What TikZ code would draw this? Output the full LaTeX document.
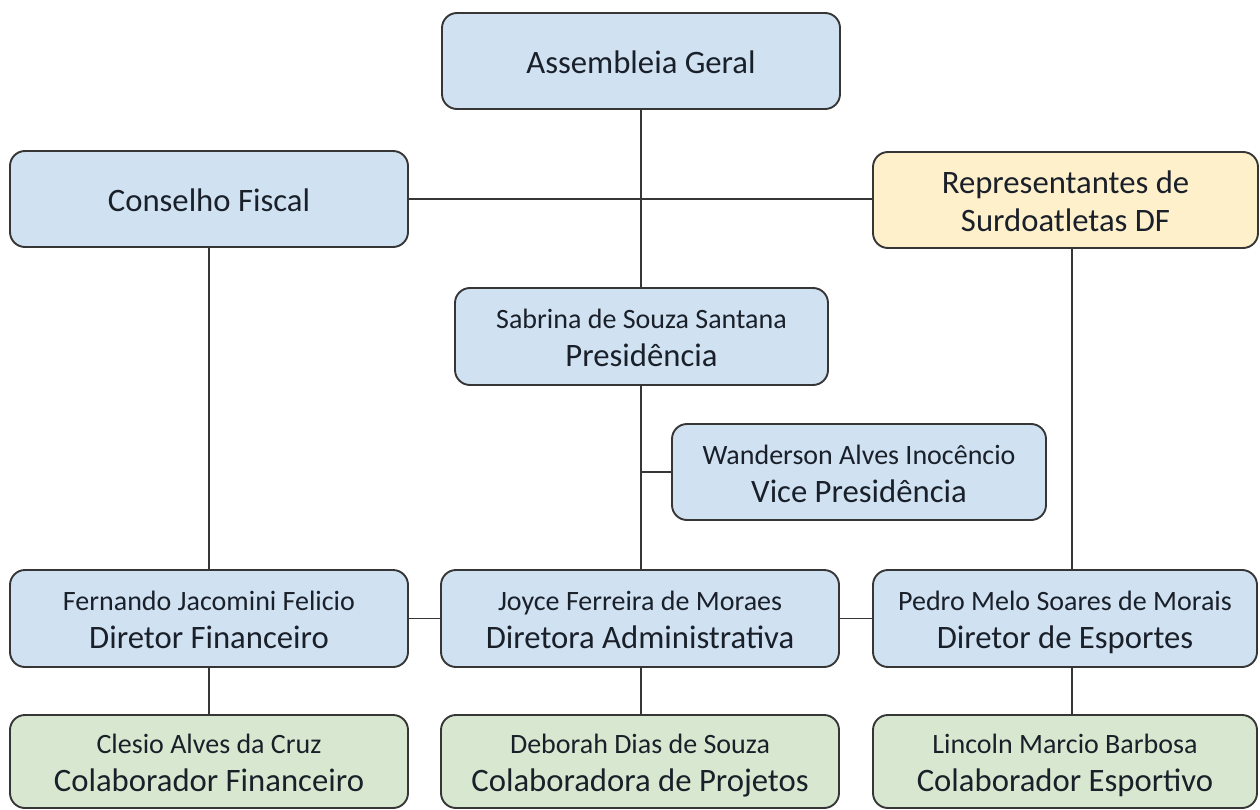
\documentclass[tikz,border=0pt]{standalone}
\usepackage{fontspec}
\setmainfont{Carlito}
\definecolor{boxblue}{HTML}{D0E1F2}
\definecolor{boxyellow}{HTML}{FFF0CC}
\definecolor{boxgreen}{HTML}{D8E8D0}
\definecolor{edge}{HTML}{363636}
\definecolor{txt}{HTML}{1A2029}
\tikzset{
  orgbox/.style={draw=edge, line width=1.9pt, rounded corners=15pt, fill=boxblue,
    align=center, inner sep=0pt, text=txt, font=\fontsize{32.7}{38}\selectfont},
  yellowbox/.style={orgbox, fill=boxyellow},
  greenbox/.style={orgbox, fill=boxgreen},
  link/.style={draw=edge, line width=1.9pt},
}
% first (small) line of a two-line label
\newcommand{\nm}[1]{{\fontsize{28}{34}\selectfont\rule[-10pt]{0pt}{44pt}#1}}
% last (large) line
\newcommand{\tl}[1]{\rule[-11.4pt]{0pt}{38pt}#1}
% first large line (single-line labels and first line of two large lines)
\newcommand{\fl}[1]{\rule[-11.4pt]{0pt}{48pt}#1}
\begin{document}
\begin{tikzpicture}[x=1pt,y=-1pt]
\useasboundingbox (0,0) rectangle (1260,810);
\fill[white] (0,0) rectangle (1260,810);
% nodes
\node[orgbox, minimum width=398pt, minimum height=96pt] (ag) at (641,61) {\fl{Assembleia Geral}};
\node[orgbox, minimum width=398pt, minimum height=96pt] (cf) at (209,199) {\fl{Conselho Fiscal}};
\node[yellowbox, minimum width=385pt, minimum height=96pt] (rep) at (1065.5,200) {\fl{Representantes de}\\\tl{Surdoatletas DF}};
\node[orgbox, minimum width=373pt, minimum height=97pt] (pres) at (641.5,336.5) {\nm{Sabrina de Souza Santana}\\\tl{Presidência}};
\node[orgbox, minimum width=374pt, minimum height=96pt] (vice) at (859,472) {\nm{Wanderson Alves Inocêncio}\\\tl{Vice Presidência}};
\node[orgbox, minimum width=398pt, minimum height=97pt] (fer) at (209,618.5) {\nm{Fernando Jacomini Felicio}\\\tl{Diretor Financeiro}};
\node[orgbox, minimum width=398pt, minimum height=97pt] (joy) at (640,618.5) {\nm{Joyce Ferreira de Moraes}\\\tl{Diretora Administrativa}};
\node[orgbox, minimum width=384pt, minimum height=97pt] (ped) at (1065,618.5) {\nm{Pedro Melo Soares de Morais}\\\tl{Diretor de Esportes}};
\node[greenbox, minimum width=398pt, minimum height=93pt] (cle) at (209,761.5) {\nm{Clesio Alves da Cruz}\\\tl{Colaborador Financeiro}};
\node[greenbox, minimum width=398pt, minimum height=93pt] (deb) at (640,761.5) {\nm{Deborah Dias de Souza}\\\tl{Colaboradora de Projetos}};
\node[greenbox, minimum width=384pt, minimum height=93pt] (lin) at (1065,761.5) {\nm{Lincoln Marcio Barbosa}\\\tl{Colaborador Esportivo}};
% helper coordinates
\coordinate (rx) at (1072,0);
\coordinate (vx) at (641,0);
% connectors
\draw[link] (ag.south -| vx) -- (pres.north -| vx);
\draw[link] (cf.east) -- (rep.west |- cf.east);
\draw[link] (cf.south) -- (fer.north);
\draw[link] (rep.south -| rx) -- (ped.north -| rx);
\draw[link] (pres.south -| vx) -- (joy.north -| vx);
\draw[link] (vice.west) -- (vice.west -| vx);
\draw[link] (fer.east) -- (joy.west);
\draw[link] (joy.east) -- (ped.west);
\draw[link] (fer.south) -- (cle.north);
\draw[link] (joy.south -| vx) -- (deb.north -| vx);
\draw[link] (ped.south -| rx) -- (lin.north -| rx);
\end{tikzpicture}
\end{document}
